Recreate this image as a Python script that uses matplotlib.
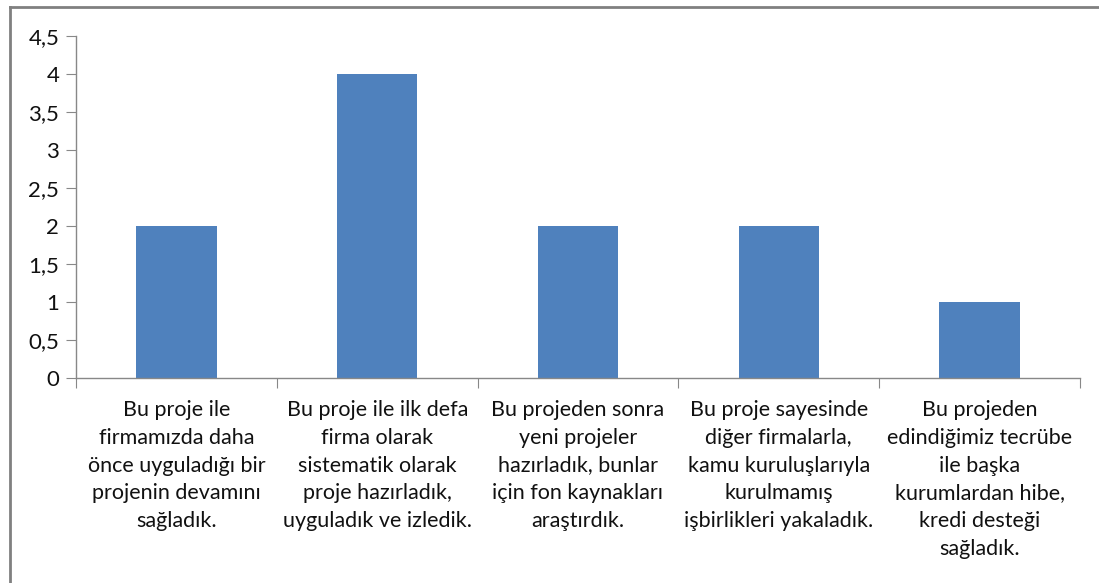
import matplotlib.pyplot as plt
from matplotlib.lines import Line2D
from matplotlib.ticker import FuncFormatter, MultipleLocator

categories = [
    "Bu proje ile\nfirmamızda daha\nönce uyguladığı bir\nprojenin devamını\nsağladık.",
    "Bu proje ile ilk defa\nfirma olarak\nsistematik olarak\nproje hazırladık,\nuyguladık ve izledik.",
    "Bu projeden sonra\nyeni projeler\nhazırladık, bunlar\niçin fon kaynakları\naraştırdık.",
    "Bu proje sayesinde\ndiğer firmalarla,\nkamu kuruluşlarıyla\nkurulmamış\nişbirlikleri yakaladık.",
    "Bu projeden\nedindiğimiz tecrübe\nile başka\nkurumlardan hibe,\nkredi desteği\nsağladık.",
]
values = [2, 4, 2, 2, 1]

plt.rcParams["font.family"] = ["Lato", "DejaVu Sans"]
W, H = 1099, 583
fig = plt.figure(figsize=(W / 100, H / 100), dpi=100)
ax = fig.add_axes([76 / W, 1 - 378 / H, (1080 - 76) / W, (378 - 36) / H])

x = range(len(values))
ax.bar(x, values, width=0.4, color="#4F81BD")
ax.set_xlim(-0.5, len(values) - 0.5)
ax.set_ylim(0, 4.5)
ax.yaxis.set_major_locator(MultipleLocator(0.5))
ax.yaxis.set_major_formatter(FuncFormatter(lambda v, p: f"{v:g}".replace(".", ",")))

ax.set_xticks([i + 0.5 for i in range(-1, len(values))])
ax.set_xticklabels([])
ax.set_xticks(list(x), minor=True)
ax.set_xticklabels(categories, minor=True, fontsize=15.5, color="#111111",
                   linespacing=1.48, va="top")
ax.tick_params(axis="x", which="minor", length=0, pad=16)
ax.tick_params(axis="x", which="major", length=7, color="#888888", direction="out")
ax.tick_params(axis="y", length=7, color="#888888", labelsize=16, pad=5,
               labelcolor="#111111")

for s in ["top", "right"]:
    ax.spines[s].set_visible(False)
for s in ["left", "bottom"]:
    ax.spines[s].set_color("#888888")
    ax.spines[s].set_linewidth(1)

# outer chart border
fig.add_artist(Line2D([9.5 / W, 9.5 / W], [0, 1 - 7 / H], transform=fig.transFigure,
                      color="#808080", lw=2))
fig.add_artist(Line2D([9.5 / W, 1], [1 - 7 / H, 1 - 7 / H], transform=fig.transFigure,
                      color="#808080", lw=2))

fig.savefig("out.png", dpi=100)
